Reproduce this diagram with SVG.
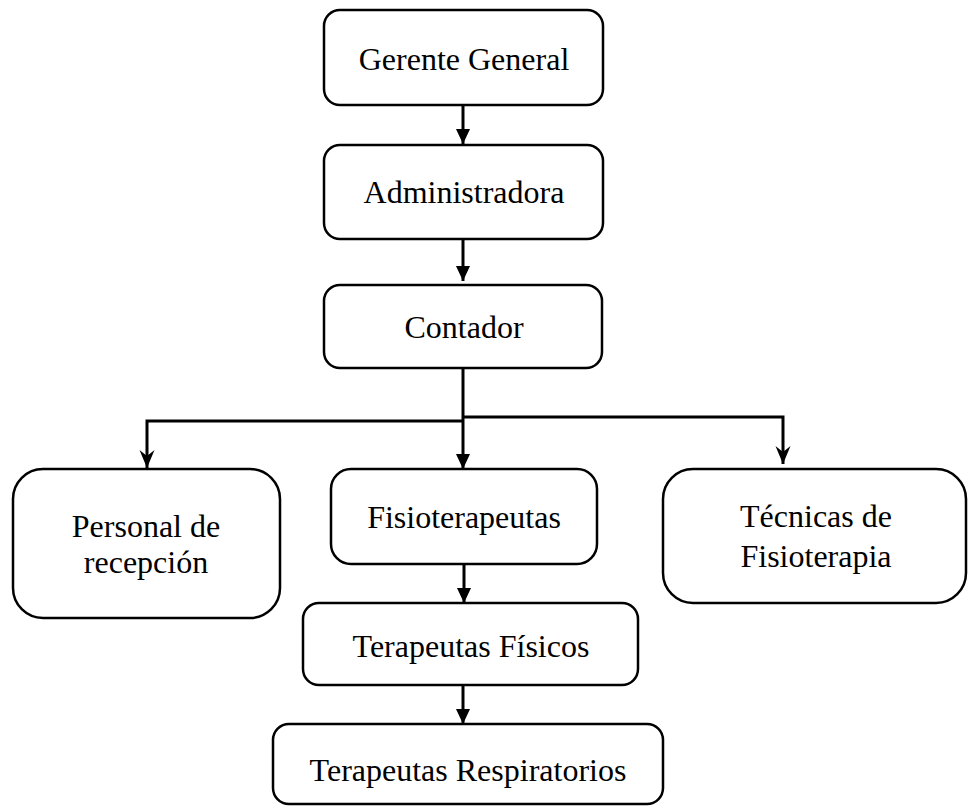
<svg xmlns="http://www.w3.org/2000/svg" width="968" height="808" viewBox="0 0 968 808">
<defs>
<style>
.box{fill:#fff;stroke:#000;stroke-width:2.5}
.t{font-family:"Liberation Serif","Times New Roman",serif;font-size:32px;fill:#000;text-anchor:middle}
.c{fill:none;stroke:#000;stroke-width:3}
</style>
<marker id="tri" markerUnits="userSpaceOnUse" markerWidth="18" markerHeight="18" viewBox="0 0 18 18" refX="15" refY="9" orient="auto">
<path d="M0,2 L15,9 L0,16 Z" fill="#000"/>
</marker>
<marker id="stealth" markerUnits="userSpaceOnUse" markerWidth="20" markerHeight="18" viewBox="0 0 20 18" refX="18" refY="9" orient="auto">
<path d="M0,1.5 L18,9 L0,16.5 L6,9 Z" fill="#000"/>
</marker>
</defs>
<rect width="968" height="808" fill="#fff"/>
<g id="connectors">
<line class="c" x1="463" y1="105" x2="463" y2="144" marker-end="url(#tri)"/>
<line class="c" x1="463" y1="233" x2="463" y2="281" marker-end="url(#tri)"/>
<line class="c" x1="463" y1="368" x2="463" y2="469" marker-end="url(#tri)"/>
<polyline class="c" points="463,421 147,421 147,468" marker-end="url(#stealth)"/>
<polyline class="c" points="463,417 783,417 783,464" marker-end="url(#stealth)"/>
<line class="c" x1="464" y1="564" x2="464" y2="603" marker-end="url(#tri)"/>
<line class="c" x1="463" y1="685" x2="463" y2="724" marker-end="url(#tri)"/>
</g>
<g id="gerente">
<rect class="box" x="324" y="10" width="279" height="95" rx="16"/>
<text class="t" x="464" y="70">Gerente General</text>
</g>
<g id="administradora">
<rect class="box" x="324" y="145" width="279" height="94" rx="16"/>
<text class="t" x="464" y="203">Administradora</text>
</g>
<g id="contador">
<rect class="box" x="324" y="285" width="278" height="83" rx="16"/>
<text class="t" x="464" y="338">Contador</text>
</g>
<g id="personal">
<rect class="box" x="13" y="469" width="267" height="149" rx="30"/>
<text class="t" x="146" y="537">Personal de</text>
<text class="t" x="146" y="573">recepción</text>
</g>
<g id="fisioterapeutas">
<rect class="box" x="331" y="469" width="266" height="95" rx="20"/>
<text class="t" x="464" y="528">Fisioterapeutas</text>
</g>
<g id="tecnicas">
<rect class="box" x="663" y="469" width="303" height="134" rx="30"/>
<text class="t" x="816" y="527">Técnicas de</text>
<text class="t" x="816" y="567">Fisioterapia</text>
</g>
<g id="fisicos">
<rect class="box" x="303" y="603" width="335" height="82" rx="16"/>
<text class="t" x="471" y="657">Terapeutas Físicos</text>
</g>
<g id="respiratorios">
<rect class="box" x="273" y="724" width="390" height="80" rx="16"/>
<text class="t" x="468" y="781">Terapeutas Respiratorios</text>
</g>
</svg>
